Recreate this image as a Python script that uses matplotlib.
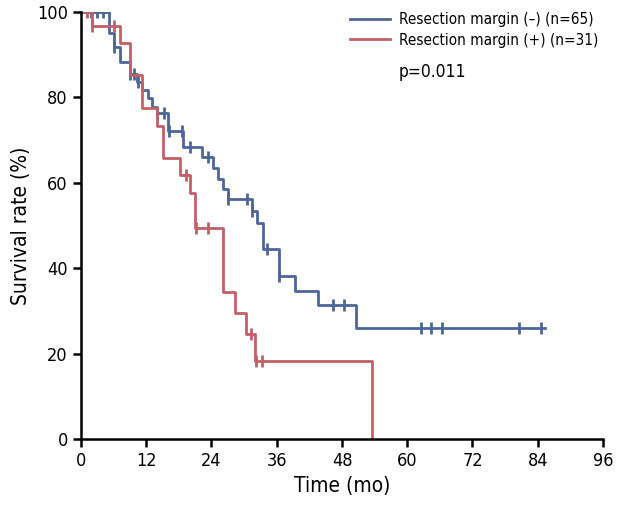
import numpy as np
import matplotlib
matplotlib.use("Agg")
import matplotlib.pyplot as plt

plt.rcParams['font.family'] = ['DejaVu Sans']
plt.rcParams['font.stretch'] = 'condensed'

# Resection margin (-) : step times (mo) and survival (%)
neg_t = [0, 5.2, 6.1, 7.2, 9.0, 10.3, 11.2, 12.3, 13.1, 14.0, 16.0, 18.8, 22.3,
         24.3, 25.2, 26.1, 27.0, 31.4, 32.4, 33.5, 36.4, 39.4, 43.6, 50.6]
neg_s = [100, 95.1, 91.8, 88.3, 85.5, 83.6, 81.7, 79.9, 77.8, 76.3, 72.1, 68.4, 66.0,
         63.5, 60.9, 58.5, 56.2, 53.4, 50.6, 44.5, 38.2, 34.7, 31.4, 26.0]
neg_end = 85.3
neg_cens = [1.8, 3.0, 4.0, 6.1, 9.0, 9.8, 10.5, 14.0, 15.2, 16.2, 18.5, 20.0, 23.3,
            27.0, 30.5, 31.4, 34.2, 36.4, 46.3, 48.4, 62.5, 64.4, 66.4, 80.6, 84.6]

# Resection margin (+)
pos_t = [0, 2.0, 7.2, 9.0, 11.2, 14.0, 15.1, 18.2, 20.0, 21.0, 26.1, 28.3, 30.3, 32.0]
pos_s = [100, 96.7, 92.7, 85.2, 77.5, 73.3, 65.8, 61.8, 57.6, 49.4, 34.4, 29.5, 24.6, 18.3]
pos_end = 53.5
pos_cens = [1.1, 2.0, 6.1, 19.3, 21.2, 23.4, 31.3, 32.1, 33.2]

blue = '#4d6699'
red = '#c45f69'


def surv_at(t, s, x):
    i = np.searchsorted(t, x, side='right') - 1
    return np.array(s)[i]


fig = plt.figure(figsize=(6.21, 5.11), dpi=100)
ax = fig.add_axes([0.1304, 0.1409, 0.8406, 0.8356])

# blue curve
ax.step(neg_t + [neg_end], neg_s + [neg_s[-1]], where='post', color=blue, lw=2.0,
        label='Resection margin (–) (n=65)')
ax.plot(neg_cens, surv_at(neg_t, neg_s, neg_cens), '|', color=blue, ms=8, mew=2.0)

# red curve, drops to zero at the last time
ax.step(pos_t + [pos_end, pos_end], pos_s + [pos_s[-1], 0], where='post', color=red,
        lw=2.0, label='Resection margin (+) (n=31)')
ax.plot(pos_cens, surv_at(pos_t, pos_s, pos_cens), '|', color=red, ms=8, mew=2.0)

ax.set_xlim(0, 96)
ax.set_ylim(0, 100)
ax.set_xticks(np.arange(0, 97, 12))
ax.set_yticks(np.arange(0, 101, 20))
ax.spines['top'].set_visible(False)
ax.spines['right'].set_visible(False)
ax.spines['left'].set_linewidth(1.8)
ax.spines['bottom'].set_linewidth(1.8)
ax.tick_params(width=1.8, length=6, labelsize=13)
ax.set_xlabel('Time (mo)', fontsize=15)
ax.set_ylabel('Survival rate (%)', fontsize=15)

leg = ax.legend(loc='upper left', bbox_to_anchor=(0.515, 1.0), frameon=False,
                fontsize=11, handlelength=2.6, handletextpad=0.6, labelspacing=0.37,
                borderpad=0, borderaxespad=0)
ax.text(0.609, 0.859, 'p=0.011', transform=ax.transAxes, fontsize=12.5, va='center')

fig.savefig('out.png', dpi=100)
